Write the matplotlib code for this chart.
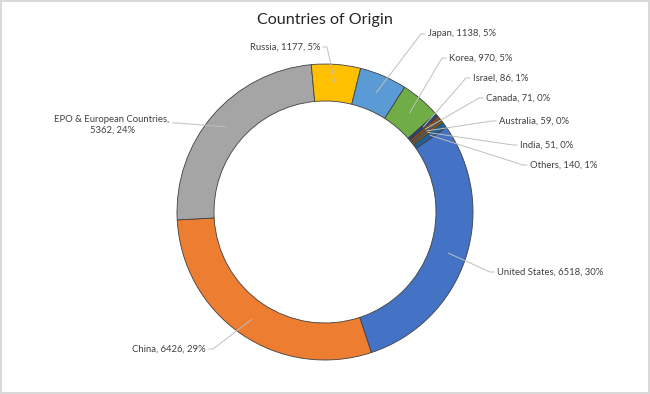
import matplotlib.pyplot as plt
from matplotlib.lines import Line2D
import numpy as np

countries = ['United States', 'China', 'EPO & European Countries', 'Russia', 'Japan',
             'Korea', 'Israel', 'Canada', 'Australia', 'India', 'Others']
counts = [6518, 6426, 5362, 1177, 1138, 970, 86, 71, 59, 51, 140]
pct_labels = ['30%', '29%', '24%', '5%', '5%', '5%', '1%', '0%', '0%', '0%', '1%']
colors = ['#4472C4', '#ED7D31', '#A5A5A5', '#FFC000', '#5B9BD5', '#70AD47',
          '#264478', '#9E480E', '#636363', '#997300', '#255E91']

# label placement in pixels from top-left: (x, y, ha)
label_pos = {
    'United States': (497, 272, 'left'),
    'China': (206, 349, 'right'),
    'EPO & European Countries': (112, 125, 'center'),
    'Russia': (320, 47, 'right'),
    'Japan': (428, 34, 'left'),
    'Korea': (449, 58, 'left'),
    'Israel': (473, 78, 'left'),
    'Canada': (486, 98, 'left'),
    'Australia': (499, 121, 'left'),
    'India': (520, 145, 'left'),
    'Others': (530, 165, 'left'),
}

W, H = 650, 394
plt.rcParams['font.family'] = ['Lato', 'DejaVu Sans']

fig = plt.figure(figsize=(W / 100, H / 100), dpi=100)
fig.patch.set_edgecolor('#D9D9D9')
fig.patch.set_linewidth(1.5)

cx, cy, r = 325, 212, 148
ax = fig.add_axes([(cx - r) / W, 1 - (cy + r) / H, 2 * r / W, 2 * r / H])

wedges, _ = ax.pie(counts, colors=colors, startangle=34.9, counterclock=False,
                   radius=1, wedgeprops=dict(width=0.25, edgecolor='#404040', linewidth=0.6))
ax.set_xlim(-1, 1)
ax.set_ylim(-1, 1)
ax.set_aspect('equal')
ax.axis('off')

fig.text(0.5, 1 - 20 / H, 'Countries of Origin', ha='center', va='center',
         fontsize=11.6, color='#262626')

for w, name, n, pct in zip(wedges, countries, counts, pct_labels):
    if name.startswith('EPO'):
        txt = f'{name},\n{n}, {pct}'
    else:
        txt = f'{name}, {n}, {pct}'
    lx, ly, ha = label_pos[name]
    fig.text(lx / W, 1 - ly / H, txt, ha=ha, va='center', fontsize=6.8,
             color='#404040', linespacing=1.25)
    mid = np.deg2rad((w.theta1 + w.theta2) / 2)
    px, py = ax.transData.transform((0.88 * np.cos(mid), 0.88 * np.sin(mid)))
    py = H - py
    if ha == 'left':
        ex, ey = lx - 3, ly
        kx = ex - 4
    elif ha == 'right':
        ex, ey = lx + 3, ly
        kx = ex + 4
    else:
        ex, ey = lx + 61, ly - 2
        kx = ex + 4
    xs = [ex, kx, px]
    ys = [ey, ey, py]
    fig.add_artist(Line2D([x / W for x in xs], [1 - y / H for y in ys],
                          transform=fig.transFigure, color='#BFBFBF', linewidth=0.7))

fig.savefig('out.png', dpi=100)
